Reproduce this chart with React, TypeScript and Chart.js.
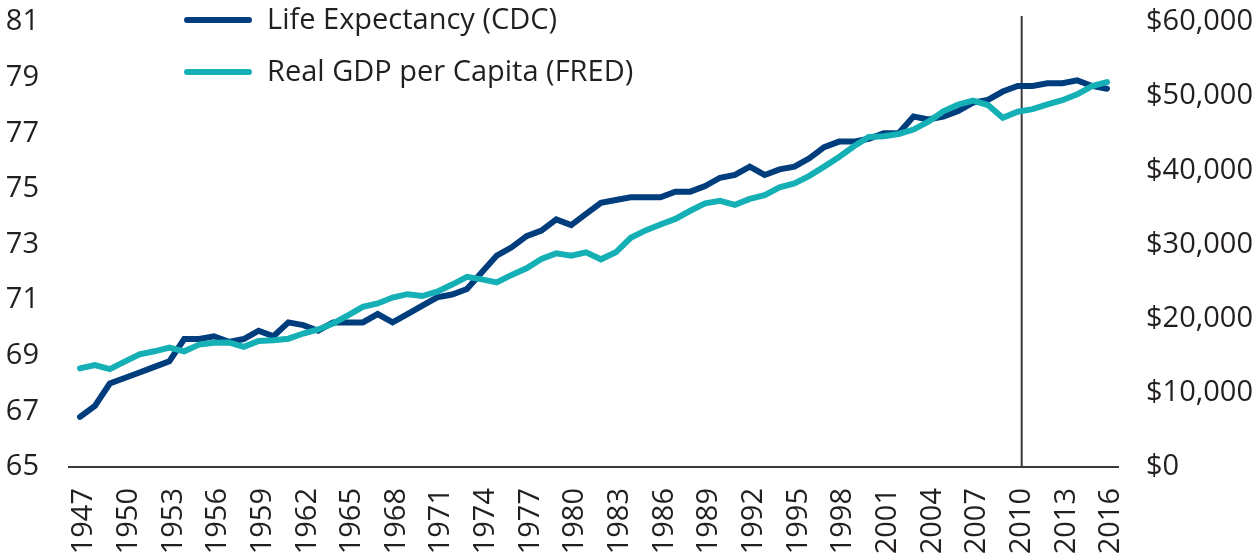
import React, { useEffect, useRef } from "react";
import { Chart, registerables } from "chart.js";

Chart.register(...registerables);

const YEARS = [
  1947, 1948, 1949, 1950, 1951, 1952, 1953, 1954, 1955, 1956,
  1957, 1958, 1959, 1960, 1961, 1962, 1963, 1964, 1965, 1966,
  1967, 1968, 1969, 1970, 1971, 1972, 1973, 1974, 1975, 1976,
  1977, 1978, 1979, 1980, 1981, 1982, 1983, 1984, 1985, 1986,
  1987, 1988, 1989, 1990, 1991, 1992, 1993, 1994, 1995, 1996,
  1997, 1998, 1999, 2000, 2001, 2002, 2003, 2004, 2005, 2006,
  2007, 2008, 2009, 2010, 2011, 2012, 2013, 2014, 2015, 2016,
];

const LIFE_EXPECTANCY = [
  66.8, 67.2, 68.0, 68.2, 68.4, 68.6, 68.8, 69.6, 69.6, 69.7,
  69.5, 69.6, 69.9, 69.7, 70.2, 70.1, 69.9, 70.2, 70.2, 70.2,
  70.5, 70.2, 70.5, 70.8, 71.1, 71.2, 71.4, 72.0, 72.6, 72.9,
  73.3, 73.5, 73.9, 73.7, 74.1, 74.5, 74.6, 74.7, 74.7, 74.7,
  74.9, 74.9, 75.1, 75.4, 75.5, 75.8, 75.5, 75.7, 75.8, 76.1,
  76.5, 76.7, 76.7, 76.8, 77.0, 77.0, 77.6, 77.5, 77.6, 77.8,
  78.1, 78.2, 78.5, 78.7, 78.7, 78.8, 78.8, 78.9, 78.7, 78.6,
];

const GDP_PER_CAPITA = [
  13300, 13750, 13200, 14200, 15200, 15600, 16100, 15600, 16500, 16750,
  16800, 16200, 17000, 17100, 17300, 18000, 18550, 19350, 20450, 21600,
  22050, 22850, 23300, 23050, 23650, 24600, 25650, 25300, 24900, 25900,
  26800, 28050, 28800, 28500, 28950, 28000, 28950, 30900, 31900, 32700,
  33450, 34550, 35550, 35900, 35350, 36150, 36650, 37700, 38250, 39250,
  40500, 41800, 43250, 44500, 44600, 44900, 45500, 46550, 47950, 48850,
  49400, 48800, 47100, 47900, 48250, 48900, 49450, 50250, 51350, 51900,
];

const X_TICK_YEARS = [
  1947, 1950, 1953, 1956, 1959, 1962, 1965, 1968, 1971, 1974, 1977, 1980,
  1983, 1986, 1989, 1992, 1995, 1998, 2001, 2004, 2007, 2010, 2013, 2016,
];
const LEFT_TICKS = [65, 67, 69, 71, 73, 75, 77, 79, 81];
const RIGHT_TICKS = [0, 10000, 20000, 30000, 40000, 50000, 60000];
const MARKER_YEAR = 2010;

const SERIES_LABELS = ["Life Expectancy (CDC)", "Real GDP per Capita (FRED)"];

const NAVY = "#003d7d";
const TEAL = "#14b0b6";
const TEXT = "#231f20";
const AXIS = "#3a3a3a";
const FONT_FAMILY = "'Open Sans', 'Noto Sans', sans-serif";
const FONT_SIZE = 29;
const LABEL_SHIFT = 4;

const markerPlugin = {
  id: "marker",
  beforeDatasetsDraw(chart: any) {
    const x = chart.scales.x.getPixelForValue(MARKER_YEAR) + LABEL_SHIFT;
    const top = chart.chartArea.top - 6;
    const bottom = chart.chartArea.bottom;
    const ctx = chart.ctx;
    ctx.save();
    ctx.strokeStyle = AXIS;
    ctx.lineWidth = 2;
    ctx.beginPath();
    ctx.moveTo(x, top);
    ctx.lineTo(x, bottom);
    ctx.stroke();
    ctx.restore();
  },
};

const legendPlugin = {
  id: "customLegend",
  afterDraw(chart: any) {
    const ctx = chart.ctx;
    ctx.save();
    chart.data.datasets.forEach((ds: any, i: number) => {
      const y = 20 + i * 52;
      ctx.strokeStyle = ds.borderColor;
      ctx.lineWidth = 6;
      ctx.lineCap = "round";
      ctx.beginPath();
      ctx.moveTo(187, y);
      ctx.lineTo(249, y);
      ctx.stroke();
      ctx.fillStyle = TEXT;
      ctx.font = `${FONT_SIZE}px ${FONT_FAMILY}`;
      ctx.textBaseline = "middle";
      ctx.textAlign = "left";
      ctx.fillText(ds.label, 267, y + 1);
    });
    ctx.restore();
  },
};

const fitY = (width: number) => (s: any) => {
  s.width = width;
  s.paddingTop = 0;
  s.paddingBottom = 0;
};

export default function App() {
  const ref = useRef<HTMLCanvasElement | null>(null);

  useEffect(() => {
    if (!ref.current) return;
    const font = { family: FONT_FAMILY, size: FONT_SIZE };
    const chart = new Chart(ref.current, {
      type: "line",
      data: {
        datasets: [
          {
            label: SERIES_LABELS[0],
            data: YEARS.map((yr, i) => ({ x: yr, y: LIFE_EXPECTANCY[i] })),
            yAxisID: "yL",
            borderColor: NAVY,
            backgroundColor: NAVY,
            borderWidth: 6,
            pointRadius: 0,
            tension: 0,
            borderCapStyle: "round",
            borderJoinStyle: "miter",
            order: 1,
          },
          {
            label: SERIES_LABELS[1],
            data: YEARS.map((yr, i) => ({ x: yr, y: GDP_PER_CAPITA[i] })),
            yAxisID: "yR",
            borderColor: TEAL,
            backgroundColor: TEAL,
            borderWidth: 6,
            pointRadius: 0,
            tension: 0,
            borderCapStyle: "round",
            borderJoinStyle: "miter",
            order: 0,
          },
        ],
      },
      options: {
        animation: false,
        responsive: false,
        maintainAspectRatio: false,
        layout: { padding: { top: 22, left: 0, right: 0, bottom: 0 } },
        plugins: {
          legend: { display: false },
          tooltip: { enabled: false },
        },
        scales: {
          x: {
            type: "linear",
            min: YEARS[0] - 0.74,
            max: YEARS[YEARS.length - 1] + 0.74,
            grid: { display: false, drawTicks: false },
            border: { display: true, color: AXIS, width: 2 },
            ticks: {
              font,
              color: TEXT,
              minRotation: 90,
              maxRotation: 90,
              autoSkip: false,
              padding: 21,
              labelOffset: LABEL_SHIFT,
              callback: (v: any) => String(v),
            },
            afterBuildTicks: (s: any) => {
              s.ticks = X_TICK_YEARS.map((v) => ({ value: v }));
            },
            afterFit: (s: any) => {
              s.height = 93;
              s.paddingLeft = 0;
              s.paddingRight = 0;
            },
          },
          yL: {
            position: "left",
            min: LEFT_TICKS[0],
            max: LEFT_TICKS[LEFT_TICKS.length - 1],
            grid: { display: false, drawTicks: false },
            border: { display: false },
            ticks: { font, color: TEXT, padding: 30 },
            afterBuildTicks: (s: any) => {
              s.ticks = LEFT_TICKS.map((v) => ({ value: v }));
            },
            afterFit: fitY(69),
          },
          yR: {
            position: "right",
            min: RIGHT_TICKS[0],
            max: RIGHT_TICKS[RIGHT_TICKS.length - 1],
            grid: { display: false, drawTicks: false },
            border: { display: false },
            ticks: {
              font,
              color: TEXT,
              padding: 28,
              callback: (v: any) => "$" + Number(v).toLocaleString("en-US"),
            },
            afterBuildTicks: (s: any) => {
              s.ticks = RIGHT_TICKS.map((v) => ({ value: v }));
            },
            afterFit: fitY(140),
          },
        },
      },
      plugins: [markerPlugin, legendPlugin],
    } as any);
    return () => chart.destroy();
  }, []);

  return (
    <div style={{ position: "absolute", left: 0, top: 0, width: 1258, height: 560 }}>
      <canvas ref={ref} width={1258} height={560} style={{ display: "block" }} />
    </div>
  );
}
